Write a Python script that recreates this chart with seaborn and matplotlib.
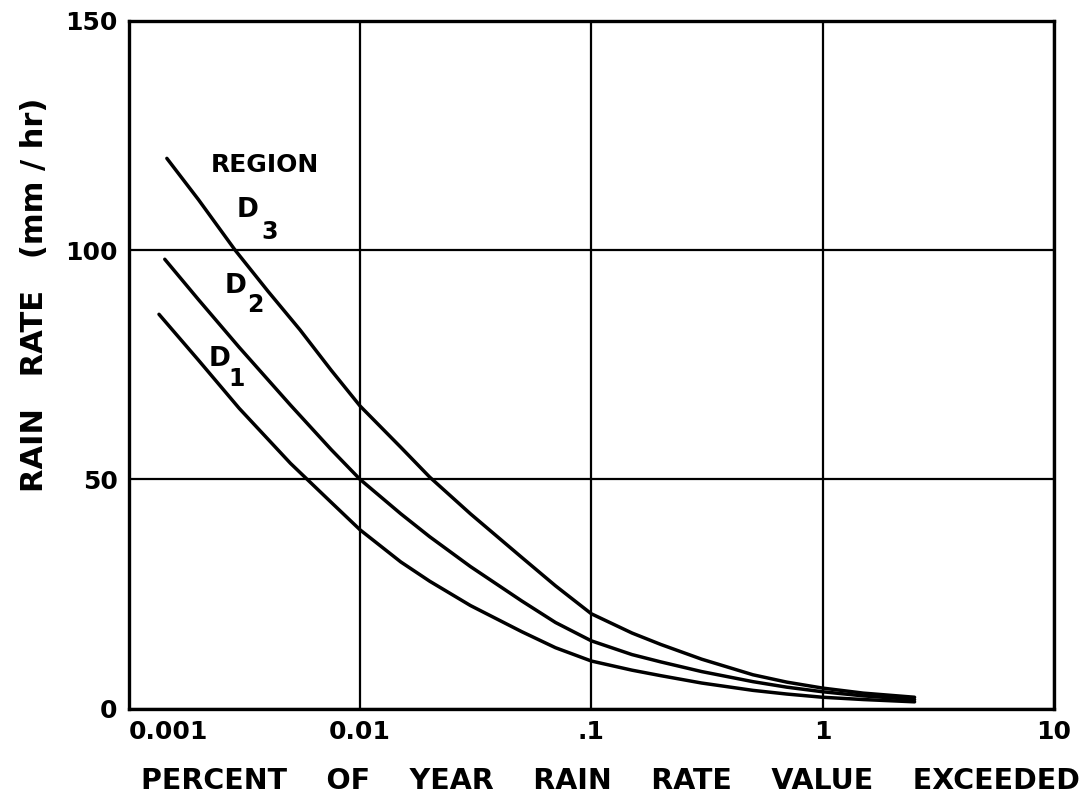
import pandas as pd
import seaborn as sns
import matplotlib.pyplot as plt

# curves: percent of year exceeded vs rain rate (mm/hr)
d3_pct = [0.00146, 0.002, 0.00288, 0.004, 0.0055, 0.0075, 0.01, 0.015, 0.02, 0.03,
          0.05, 0.07, 0.1, 0.15, 0.2, 0.3, 0.5, 0.7, 1, 1.5, 2.5]
d3_rate = [120, 111, 100, 91, 82.6, 73.8, 66, 57, 50.5, 42.5,
           33, 26.8, 20.7, 16.5, 14, 10.8, 7.4, 5.8, 4.5, 3.4, 2.5]

d2_pct = [0.00143, 0.002, 0.003, 0.005, 0.0075, 0.01, 0.015, 0.02, 0.03, 0.05,
          0.07, 0.1, 0.15, 0.2, 0.3, 0.5, 0.7, 1, 1.5, 2.5]
d2_rate = [98, 89.2, 78.8, 66.2, 56.5, 50, 42.5, 37.5, 31, 23.5,
           18.8, 14.8, 11.8, 10.2, 8.1, 5.9, 4.7, 3.7, 2.8, 2.0]

d1_pct = [0.00135, 0.002, 0.003, 0.005, 0.0075, 0.01, 0.015, 0.02, 0.03, 0.05,
          0.07, 0.1, 0.15, 0.2, 0.3, 0.5, 0.7, 1, 1.5, 2.5]
d1_rate = [86, 76, 65.5, 53.5, 45, 39, 32, 27.8, 22.5, 16.8,
           13.3, 10.4, 8.4, 7.2, 5.6, 4.0, 3.2, 2.5, 2.0, 1.5]

x_ticks = [0.001, 0.01, 0.1, 1, 10]
x_labels = ["0.001", "0.01", ".1", "1", "10"]
y_ticks = [0, 50, 100, 150]

df = pd.concat([
    pd.DataFrame({"pct": d3_pct, "rate": d3_rate, "region": "D3"}),
    pd.DataFrame({"pct": d2_pct, "rate": d2_rate, "region": "D2"}),
    pd.DataFrame({"pct": d1_pct, "rate": d1_rate, "region": "D1"}),
])

sns.set_theme(style="white")
plt.rcParams["font.family"] = ["DejaVu Sans"]
plt.rcParams["font.weight"] = "bold"
plt.rcParams["text.color"] = "black"
plt.rcParams["axes.labelcolor"] = "black"
plt.rcParams["xtick.color"] = "black"
plt.rcParams["ytick.color"] = "black"

fig = plt.figure(figsize=(10.92, 7.99), dpi=100)
ax = fig.add_axes([0.118, 0.113, 0.847, 0.861])

sns.lineplot(data=df, x="pct", y="rate", hue="region", units="region",
             estimator=None, sort=True, palette=["black"] * 3,
             linewidth=2.5, legend=False, ax=ax)

ax.set_xscale("log")
ax.set_xlim(0.001, 10)
ax.set_ylim(0, 150)
ax.set_xticks(x_ticks)
ax.set_xticklabels(x_labels, fontsize=18, fontweight="bold")
ax.minorticks_off()
ax.set_yticks(y_ticks)
ax.set_yticklabels([str(v) for v in y_ticks], fontsize=18, fontweight="bold")
ax.get_xticklabels()[0].set_ha("left")
ax.tick_params(length=0, pad=8)
ax.set_xlabel("")
ax.set_ylabel("")

ax.grid(True, which="major", color="black", linewidth=1.6)
for s in ax.spines.values():
    s.set_color("black")
    s.set_linewidth(2.4)

fig.text(0.5586, 0.0225, "PERCENT    OF    YEAR    RAIN    RATE    VALUE    EXCEEDED",
         fontsize=20.5, fontweight="bold", ha="center", va="center")
fig.text(0.032, 0.631, "RAIN   RATE   (mm / hr)", fontsize=22, fontweight="bold",
         rotation=90, ha="center", va="center")

# region labels
tr = ax.transAxes
ax.text(0.147, 0.791, "REGION", transform=tr, fontsize=18, fontweight="bold",
        ha="center", va="center")
ax.text(0.128, 0.725, "D", transform=tr, fontsize=19, fontweight="bold", ha="center", va="center")
ax.text(0.152, 0.693, "3", transform=tr, fontsize=17, fontweight="bold", ha="center", va="center")
ax.text(0.115, 0.615, "D", transform=tr, fontsize=19, fontweight="bold", ha="center", va="center")
ax.text(0.137, 0.587, "2", transform=tr, fontsize=17, fontweight="bold", ha="center", va="center")
ax.text(0.098, 0.509, "D", transform=tr, fontsize=19, fontweight="bold", ha="center", va="center")
ax.text(0.116, 0.480, "1", transform=tr, fontsize=17, fontweight="bold", ha="center", va="center")

fig.savefig("out.png", dpi=100, facecolor="white")
